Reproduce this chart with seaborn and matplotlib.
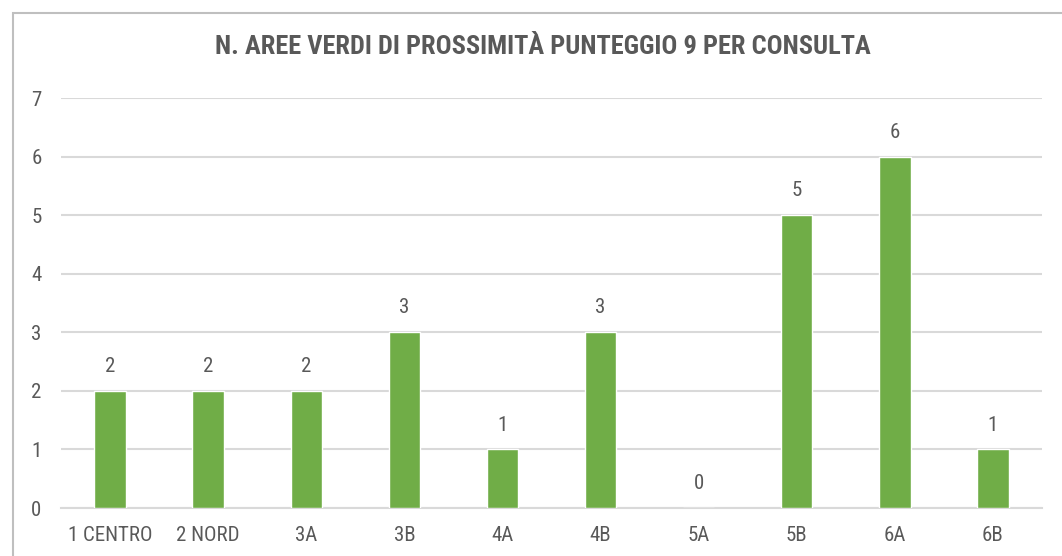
import matplotlib
matplotlib.use("Agg")
import matplotlib.pyplot as plt
from matplotlib import font_manager
from matplotlib.patches import Rectangle
import seaborn as sns
import pandas as pd

consulte = ["1 CENTRO", "2 NORD", "3A", "3B", "4A", "4B", "5A", "5B", "6A", "6B"]
aree_verdi = [2, 2, 2, 3, 1, 3, 0, 5, 6, 1]
y_ticks = [0, 1, 2, 3, 4, 5, 6, 7]
titolo = "N. AREE VERDI DI PROSSIMITÀ PUNTEGGIO 9 PER CONSULTA"

sns.set_theme(style="white")

# pick a narrow sans-serif face if one is installed
entries = font_manager.fontManager.ttflist
names = {f.name for f in entries}
stretch = "normal"
if "Roboto Condensed" in names:
    family = "Roboto Condensed"
elif "Liberation Sans Narrow" in names:
    family = "Liberation Sans Narrow"
elif any(f.name == "DejaVu Sans" and f.stretch == "condensed" for f in entries):
    family, stretch = "DejaVu Sans", "condensed"
elif "Roboto" in names:
    family = "Roboto"
else:
    family = "DejaVu Sans"
plt.rcParams["font.family"] = [family, "DejaVu Sans"]
plt.rcParams["font.stretch"] = stretch

GREY_TEXT = "#595959"
GRID = "#d9d9d9"
GREEN = "#70AD47"

df = pd.DataFrame({"consulta": consulte, "n": aree_verdi})

fig = plt.figure(figsize=(10.62, 5.56), dpi=100)
ax = fig.add_axes([61 / 1062, 1 - 508 / 556, 981 / 1062, 410 / 556])

sns.barplot(data=df, x="consulta", y="n", color=GREEN, width=0.32,
            saturation=1, ax=ax, zorder=3)

ax.set_ylim(0, 7)
ax.set_xlim(-0.5, len(consulte) - 0.5)
ax.set_yticks(y_ticks)
ax.yaxis.grid(True, color=GRID, linewidth=1.5, zorder=0)
ax.set_axisbelow(True)
for side in ["left", "right", "top"]:
    ax.spines[side].set_visible(False)
ax.spines["bottom"].set_color(GRID)
ax.spines["bottom"].set_linewidth(1.5)
ax.tick_params(axis="both", length=0, labelsize=15, labelcolor=GREY_TEXT)
ax.tick_params(axis="x", pad=13)
ax.tick_params(axis="y", pad=14)
ax.set_xlabel("")
ax.set_ylabel("")

for i, v in enumerate(aree_verdi):
    ax.annotate(str(v), (i, v), xytext=(0, 17.5), textcoords="offset points",
                ha="center", va="center", fontsize=15, color=GREY_TEXT)

fig.text(543 / 1062, 1 - 47 / 556, titolo, ha="center", va="center",
         fontsize=19, fontweight="bold", color=GREY_TEXT)

# chart frame
fig.patches.append(Rectangle((13 / 1062, -0.1), 1.2, 1 - 13 / 556 + 0.1,
                             transform=fig.transFigure, fill=False,
                             edgecolor="#bfbfbf", linewidth=1.5))

fig.savefig("out.png", dpi=100, facecolor="white")
